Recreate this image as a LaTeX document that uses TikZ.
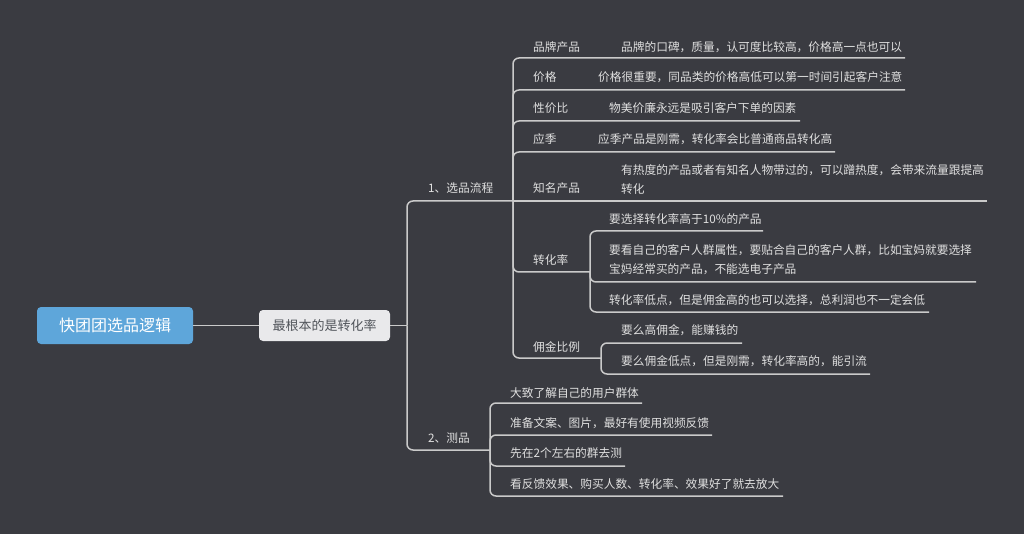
\documentclass[tikz,border=0pt]{standalone}
\usepackage{fontspec}
\newfontfamily\cjk{Noto Sans CJK SC}
\usetikzlibrary{calc}
\definecolor{bgdark}{HTML}{3A3B41}
\definecolor{linegray}{HTML}{CACACA}
\definecolor{textgray}{HTML}{E0E0E0}
\definecolor{rootblue}{HTML}{5EA6DA}
\definecolor{boxgray}{HTML}{E9E9EB}
\definecolor{boxtext}{HTML}{50545A}

\begin{document}
\begin{tikzpicture}[x=1pt,y=-1pt,
wurzel/.style={rectangle,rounded corners=4pt,fill=rootblue,text=white,minimum width=156pt,minimum height=37pt,font=\cjk\fontsize{16}{18}\selectfont},
kernbox/.style={rectangle,rounded corners=4pt,fill=boxgray,text=boxtext,minimum width=131pt,minimum height=31pt,font=\cjk\fontsize{13}{15}\selectfont},
thema/.style={anchor=west,inner sep=0pt,text=textgray,align=left,font=\cjk\fontsize{11.7}{18.5}\selectfont},
ast/.style={draw=linegray,line width=1.5pt,rounded corners=6pt}
]

\fill[bgdark] (0,0) rectangle (1024,534);
\useasboundingbox (0,0) rectangle (1024,534);

\node[wurzel](root) at (115,325.5){快团团选品逻辑};
\node[kernbox](kern) at (324.5,325.5){最根本的是转化率};

\node[thema](liucheng) at (428,188){1、选品流程};
\node[thema](ceping) at (428,438){2、测品};

% 选品流程
\node[thema](pinpai) at (533,47){品牌产品};
\node[thema](pinpai-1) at (621,47){品牌的口碑，质量，认可度比较高，价格高一点也可以};
\node[thema](jiage) at (533,77){价格};
\node[thema](jiage-1) at (598,77){价格很重要，同品类的价格高低可以第一时间引起客户注意};
\node[thema](xjb) at (533,108){性价比};
\node[thema](xjb-1) at (609,108){物美价廉永远是吸引客户下单的因素};
\node[thema](yingji) at (533,139){应季};
\node[thema](yingji-1) at (598,139){应季产品是刚需，转化率会比普通商品转化高};
\node[thema](zhiming) at (533,188){知名产品};
\node[thema,anchor=north west](zhiming-1) at (621,164.5){有热度的产品或者有知名人物带过的，可以蹭热度，会带来流量跟提高\\转化};
\node[thema](zhuanhua) at (533,260){转化率};
\node[thema](zhuanhua-1) at (609,219){要选择转化率高于10\%的产品};
\node[thema,anchor=north west](zhuanhua-2) at (609,244.5){要看自己的客户人群属性，要贴合自己的客户人群，比如宝妈就要选择\\宝妈经常买的产品，不能选电子产品};
\node[thema](zhuanhua-3) at (609,300){转化率低点，但是佣金高的也可以选择，总利润也不一定会低};
\node[thema](yongjin) at (533,347){佣金比例};
\node[thema](yongjin-1) at (621,330){要么高佣金，能赚钱的};
\node[thema](yongjin-2) at (621,361){要么佣金低点，但是刚需，转化率高的，能引流};

% 测品
\node[thema](ce-1) at (510,393){大致了解自己的用户群体};
\node[thema](ce-2) at (510,423){准备文案、图片，最好有使用视频反馈};
\node[thema](ce-3) at (510,453){先在2个左右的群去测};
\node[thema](ce-4) at (510,484){看反馈效果、购买人数、转化率、效果好了就去放大};

\coordinate(k-j) at (407,325.5);
\coordinate(liucheng-j) at (513,201);
\coordinate(ceping-j) at (490,450);
\coordinate(zhuanhua-j) at (590,272);
\coordinate(yongjin-j) at (601,358);

\coordinate(pinpai-e) at (905,58);
\coordinate(jiage-e) at (905,90);
\coordinate(xjb-e) at (800,121);
\coordinate(yingji-e) at (835,152);
\coordinate(zhiming-e) at (987,201);
\coordinate(zhuanhua-1-e) at (763,231);
\coordinate(zhuanhua-2-e) at (976,282);
\coordinate(zhuanhua-3-e) at (929,312);
\coordinate(yongjin-1-e) at (742,343);
\coordinate(yongjin-2-e) at (870,374);
\coordinate(ce-1-e) at (642,403);
\coordinate(ce-2-e) at (712,435);
\coordinate(ce-3-e) at (625,466);
\coordinate(ce-4-e) at (783,496);

\begin{scope}[ast]
\draw (root)--(kern);
\draw (kern)--(k-j);
\draw (k-j)|-(liucheng-j);
\draw (k-j)|-(ceping-j);

\draw (liucheng-j)|-(pinpai-e);
\draw (liucheng-j)|-(jiage-e);
\draw (liucheng-j)|-(xjb-e);
\draw (liucheng-j)|-(yingji-e);
\draw (liucheng-j)--(zhiming-e);
\draw (liucheng-j)|-(zhuanhua-j);
\draw (liucheng-j)|-(yongjin-j);

\draw (zhuanhua-j)|-(zhuanhua-1-e);
\draw (zhuanhua-j)|-(zhuanhua-2-e);
\draw (zhuanhua-j)|-(zhuanhua-3-e);
\draw (yongjin-j)|-(yongjin-1-e);
\draw (yongjin-j)|-(yongjin-2-e);

\draw (ceping-j)|-(ce-1-e);
\draw (ceping-j)|-(ce-2-e);
\draw (ceping-j)|-(ce-3-e);
\draw (ceping-j)|-(ce-4-e);
\end{scope}

\end{tikzpicture}
\end{document}
